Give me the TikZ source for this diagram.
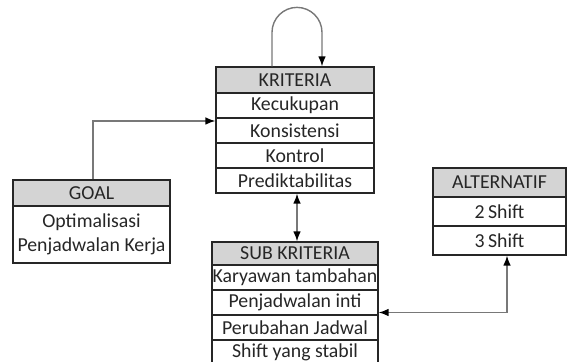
\documentclass[tikz,border=0pt]{standalone}
\usepackage{fontspec}
\setmainfont{Carlito}
\usepackage{tikz}
\usetikzlibrary{arrows.meta}

\definecolor{headgray}{RGB}{212,212,212}
\definecolor{linegray}{RGB}{120,120,120}

\begin{document}
\begin{tikzpicture}[x=0.5pt, y=-0.5pt,
  every node/.style={draw=black!85, rectangle, inner sep=0pt, text=black!85,
    font=\fontsize{9.9}{12}\selectfont, line width=0.6pt},
  head/.style={fill=headgray},
  tip/.tip={Latex[length=5pt,width=3.8pt,color=black]},
  conn/.style={draw=linegray, line width=0.7pt, -tip}]
\useasboundingbox (0,0) rectangle (567,362);
% KRITERIA
\node[head, minimum width=79pt, minimum height=13pt] (KR0) at (295,80) {KRITERIA};
\node[minimum width=79pt, minimum height=12.5pt] (KR1) at (295,105.5) {Kecukupan};
\node[minimum width=79pt, minimum height=12.5pt] (KR2) at (295,130.5) {Konsistensi};
\node[minimum width=79pt, minimum height=12.5pt] (KR3) at (295,155.5) {Kontrol};
\node[minimum width=79pt, minimum height=12.5pt] (KR4) at (295,180.5) {Prediktabilitas};
% GOAL
\node[head, minimum width=78.5pt, minimum height=13pt] (GO0) at (91.5,193) {GOAL};
\node[minimum width=78.5pt, minimum height=28.5pt, align=center] (GO1) at (91.5,234.5) {Optimalisasi\\Penjadwalan Kerja};
% SUB KRITERIA
\node[head, minimum width=83pt, minimum height=11.5pt] (SK0) at (295,253.5) {SUB KRITERIA};
\node[minimum width=83pt, minimum height=12.5pt] (SK1) at (295,277.5) {Karyawan tambahan};
\node[minimum width=83pt, minimum height=12.5pt] (SK2) at (295,302.5) {Penjadwalan inti};
\node[minimum width=83pt, minimum height=12.5pt] (SK3) at (295,327.5) {Perubahan Jadwal};
\node[minimum width=83pt, minimum height=12.5pt] (SK4) at (295,352.5) {Shift yang stabil};
% ALTERNATIF
\node[head, minimum width=66.5pt, minimum height=14.5pt] (AL0) at (499.5,182.5) {ALTERNATIF};
\node[minimum width=66.5pt, minimum height=14.5pt] (AL1) at (499.5,211.5) {2\,Shift};
\node[minimum width=66.5pt, minimum height=14.5pt] (AL2) at (499.5,240.5) {3\,Shift};
% connectors
\draw[conn] ([xshift=-11.5pt]KR0.north) -- ++(0,-34) arc[start angle=180, end angle=0, radius=12.5pt] -- ([xshift=13.5pt]KR0.north);
\draw[conn] ([xshift=0.75pt]GO0.north) |- ([yshift=4.75pt]KR2.west);
\draw[conn, tip-tip] ([xshift=1pt]KR4.south) -- ([xshift=1pt]SK0.north);
\draw[conn, tip-tip] ([yshift=-5pt]SK2.east) -| ([xshift=3.75pt]AL2.south);
\end{tikzpicture}
\end{document}
